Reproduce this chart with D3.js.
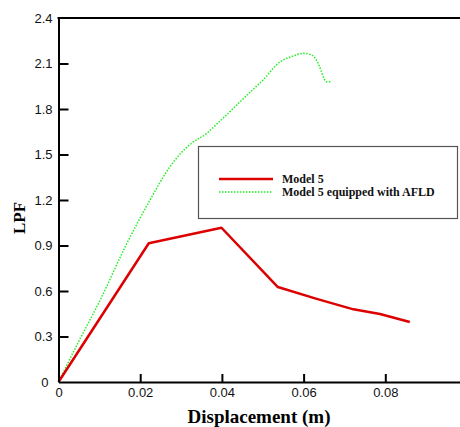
<!DOCTYPE html>
<html>
<head>
<meta charset="utf-8">
<script src="https://cdn.jsdelivr.net/npm/d3@7"></script>
<style>
  body { margin: 0; background: #fff; }
  svg { display: block; }
</style>
</head>
<body>
<div id="chart"></div>
<script>
/* values */
const model5X = [0, 0.0221, 0.0399, 0.0537, 0.0630, 0.0722, 0.0787, 0.0860];
const model5Y = [0, 0.915, 1.017, 0.626, 0.550, 0.479, 0.448, 0.396];

const afldX = [0, 0.005, 0.0102, 0.0163, 0.0224, 0.0273, 0.0300, 0.0326, 0.0363, 0.0395, 0.0461, 0.0500, 0.0542, 0.0575, 0.0599, 0.0620, 0.0632, 0.0657, 0.0669];
const afldY = [0, 0.27, 0.54, 0.89, 1.20, 1.42, 1.51, 1.575, 1.64, 1.72, 1.89, 1.99, 2.11, 2.15, 2.167, 2.156, 2.12, 1.98, 1.98];

const xTicks = [0, 0.02, 0.04, 0.06, 0.08];
const yTicks = [0, 0.3, 0.6, 0.9, 1.2, 1.5, 1.8, 2.1, 2.4];

const seriesNames = ['Model 5', 'Model 5 equipped with AFLD'];

const W = 460;
const H = 427;

const svg = d3.select('#chart')
  .append('svg')
  .attr('width', W)
  .attr('height', H);

/* scales, right end runs past the picture edge like the original */
const x = d3.scaleLinear()
  .domain([0, 0.1])
  .range([58.5, 467]);
const y = d3.scaleLinear()
  .domain([0, 2.4])
  .range([382, 18]);

/* data lines */
const line = d3.line()
  .x(function (d) { return x(d[0]); })
  .y(function (d) { return y(d[1]); })
  .curve(d3.curveMonotoneX);

const model5 = model5X.map(function (v, i) { return [v, model5Y[i]]; });
const afld = afldX.map(function (v, i) { return [v, afldY[i]]; });

svg.append('path')
  .datum(afld)
  .attr('d', line)
  .attr('fill', 'none')
  .attr('stroke', '#22ee22')
  .attr('stroke-width', 1.5)
  .attr('stroke-dasharray', '1.5,1.5');

svg.append('path')
  .datum(model5)
  .attr('d', line.curve(d3.curveLinear))
  .attr('fill', 'none')
  .attr('stroke', '#dd0000')
  .attr('stroke-width', 2.5)
  .attr('stroke-linejoin', 'round');

/* x-axis */
const xAxis = svg.append('g')
  .attr('transform', 'translate(0,' + y(0) + ')')
  .call(d3.axisBottom(x)
    .tickValues(xTicks)
    .tickFormat(function (d) { return d === 0 ? '0' : d3.format('.2f')(d); })
    .tickSizeInner(-8)
    .tickSizeOuter(0)
    .tickPadding(6));

/* y-axis */
const yAxis = svg.append('g')
  .attr('transform', 'translate(' + x(0) + ',0)')
  .call(d3.axisLeft(y)
    .tickValues(yTicks)
    .tickFormat(function (d) { return d === 0 ? '0' : d3.format('.1f')(d); })
    .tickSizeInner(-10)
    .tickSizeOuter(0)
    .tickPadding(6));

[xAxis, yAxis].forEach(function (g) {
  g.attr('font-family', '"Liberation Sans", Arial, sans-serif')
    .attr('font-size', 13);
  g.select('.domain').attr('stroke', '#000').attr('stroke-width', 2);
  g.selectAll('.tick line').attr('stroke', '#000').attr('stroke-width', 2);
  g.selectAll('.tick text').attr('fill', '#111');
});
xAxis.selectAll('.tick line').filter(function (d) { return d === 0; }).remove();
yAxis.selectAll('.tick line').filter(function (d) { return d === 0 || d === 2.4; }).remove();
yAxis.selectAll('.tick text').filter(function (d) { return d === 0; }).attr('dx', -4);

/* top frame line */
svg.append('line')
  .attr('x1', x(0) - 1)
  .attr('x2', W)
  .attr('y1', y(2.4))
  .attr('y2', y(2.4))
  .attr('stroke', '#000')
  .attr('stroke-width', 2);

/* axis titles */
svg.append('text')
  .attr('x', 259)
  .attr('y', 423)
  .attr('text-anchor', 'middle')
  .attr('font-family', '"Liberation Serif", "Times New Roman", serif')
  .attr('font-weight', 'bold')
  .attr('font-size', 19)
  .text('Displacement (m)');

svg.append('text')
  .attr('transform', 'translate(25,' + 218 + ') rotate(-90)')
  .attr('text-anchor', 'middle')
  .attr('font-family', '"Liberation Serif", "Times New Roman", serif')
  .attr('font-weight', 'bold')
  .attr('font-size', 17)
  .text('LPF');

/* legend */
const legend = svg.append('g');
legend.append('rect')
  .attr('x', 198.5)
  .attr('y', 146.5)
  .attr('width', 259)
  .attr('height', 72)
  .attr('fill', '#fff')
  .attr('stroke', '#555')
  .attr('stroke-width', 1.2);

const legendStyles = [
  { color: '#dd0000', width: 2.5, dash: null },
  { color: '#22ee22', width: 1.5, dash: '1.5,1.5' }
];

seriesNames.forEach(function (name, i) {
  const ly = 179 + i * 13;
  legend.append('line')
    .attr('x1', 219)
    .attr('x2', 273)
    .attr('y1', ly)
    .attr('y2', ly)
    .attr('stroke', legendStyles[i].color)
    .attr('stroke-width', legendStyles[i].width)
    .attr('stroke-dasharray', legendStyles[i].dash);
  legend.append('text')
    .attr('x', 282)
    .attr('y', ly + 4)
    .attr('font-family', '"Liberation Serif", "Times New Roman", serif')
    .attr('font-weight', 'bold')
    .attr('font-size', 12)
    .attr('fill', '#111')
    .text(name);
});
</script>
</body>
</html>
